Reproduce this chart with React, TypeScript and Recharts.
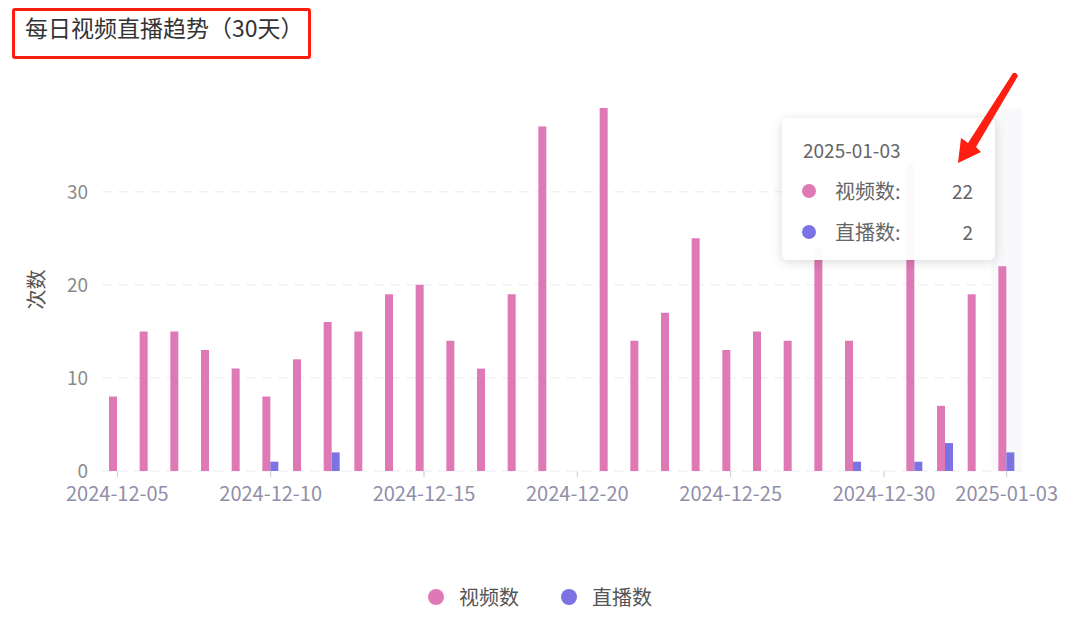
import React from "react";
import {
  BarChart, Bar, XAxis, YAxis, CartesianGrid, Tooltip, Legend,
} from "recharts";

const days = [
  "2024-12-05", "2024-12-06", "2024-12-07", "2024-12-08", "2024-12-09",
  "2024-12-10", "2024-12-11", "2024-12-12", "2024-12-13", "2024-12-14",
  "2024-12-15", "2024-12-16", "2024-12-17", "2024-12-18", "2024-12-19",
  "2024-12-20", "2024-12-21", "2024-12-22", "2024-12-23", "2024-12-24",
  "2024-12-25", "2024-12-26", "2024-12-27", "2024-12-28", "2024-12-29",
  "2024-12-30", "2024-12-31", "2025-01-01", "2025-01-02", "2025-01-03",
];
const videoCounts = [8, 15, 15, 13, 11, 8, 12, 16, 15, 19, 20, 14, 11, 19, 37, 0, 39, 14, 17, 25, 13, 15, 14, 24, 14, 0, 33, 7, 19, 22];
const liveCounts = [0, 0, 0, 0, 0, 1, 0, 2, 0, 0, 0, 0, 0, 0, 0, 0, 0, 0, 0, 0, 0, 0, 0, 0, 1, 0, 1, 3, 0, 2];
const seriesNames = ["视频数", "直播数"];
const xTicks = ["2024-12-05", "2024-12-10", "2024-12-15", "2024-12-20", "2024-12-25", "2024-12-30", "2025-01-03"];
const yTicks = [0, 10, 20, 30];

const FONT = "'Noto Sans CJK SC', 'Noto Sans', sans-serif";
const PINK = "#df79b6";
const PURPLE = "#7b72e4";

const chartData = days.map((d, i) => ({
  date: d,
  视频数: videoCounts[i],
  直播数: liveCounts[i],
}));

function AxisTitle({ viewBox }: any) {
  const cx = viewBox.x - 7;
  const cy = viewBox.y + viewBox.height / 2;
  return (
    <text
      x={cx} y={cy} transform={`rotate(-90, ${cx}, ${cy})`}
      textAnchor="middle" dominantBaseline="central"
      fill="#555" fontSize={20} fontFamily={FONT}
    >
      次数
    </text>
  );
}

function TipBox({ active, payload, label }: any) {
  if (!active || !payload?.length) return null;
  return (
    <div style={{
      position: "relative", width: 213, height: 142, boxSizing: "border-box",
      background: "rgba(255,255,255,0.96)", borderRadius: 6,
      boxShadow: "0 2px 12px rgba(0,0,0,0.15)", fontFamily: FONT, color: "#666",
    }}>
      <div style={{ position: "absolute", left: 21, top: 20, fontSize: 19, lineHeight: "24px" }}>{label}</div>
      {payload.map((p: any, i: number) => (
        <div key={p.name} style={{ position: "absolute", left: 0, top: 61 + i * 41, width: 213, height: 24 }}>
          <span style={{
            position: "absolute", left: 20, top: 5, width: 14, height: 14,
            borderRadius: 7, background: p.color,
          }} />
          <span style={{ position: "absolute", left: 53, fontSize: 20, lineHeight: "24px" }}>{p.name}:</span>
          <span style={{ position: "absolute", right: 22, fontSize: 19, lineHeight: "24px" }}>{p.value}</span>
        </div>
      ))}
    </div>
  );
}

function LegendRow({ payload }: any) {
  const items = [...(payload || [])].sort(
    (a: any, b: any) => seriesNames.indexOf(a.value) - seriesNames.indexOf(b.value),
  );
  return (
    <div style={{ width: 1080, height: 24, display: "flex", justifyContent: "center", gap: 42, fontFamily: FONT }}>
      {items.map((p: any) => (
        <div key={p.value} style={{ display: "flex", alignItems: "center", gap: 15 }}>
          <span style={{ width: 16, height: 16, borderRadius: 8, background: p.color }} />
          <span style={{ fontSize: 20, lineHeight: "24px", color: "#555" }}>{p.value}</span>
        </div>
      ))}
    </div>
  );
}

export default function App() {
  return (
    <div style={{ position: "absolute", left: 0, top: 0, width: 1080, height: 623, background: "#fff" }}>
      <BarChart
        width={1080} height={623} data={chartData}
        margin={{ top: 108, right: 58, left: 42, bottom: 14 }}
        barGap={0}
      >
        <CartesianGrid
          vertical={false} horizontalValues={yTicks}
          stroke="#ececf4" strokeDasharray="10 6"
        />
        <XAxis
          dataKey="date" ticks={xTicks} interval={0} height={114}
          axisLine={false} tickSize={6} tickMargin={10}
          tickLine={{ stroke: "#c8c8d0" }}
          tick={{ fill: "#8f8fa8", fontSize: 20, fontFamily: FONT }}
        />
        <YAxis
          domain={[0, 39]} ticks={yTicks} width={60}
          axisLine={false} tickLine={false} tickSize={6} tickMargin={8}
          tick={{ fill: "#8c8c8c", fontSize: 19, fontFamily: FONT }}
          label={<AxisTitle />}
        />
        <Tooltip
          defaultIndex={29} active
          position={{ x: 782, y: 118 }}
          content={<TipBox />}
          cursor={{ fill: "#f9f9fc" }}
          isAnimationActive={false}
        />
        <Legend verticalAlign="bottom" content={<LegendRow />} wrapperStyle={{ left: 0, width: 1080 }} />
        <Bar dataKey="视频数" fill={PINK} barSize={8} isAnimationActive={false} />
        <Bar dataKey="直播数" fill={PURPLE} barSize={8} isAnimationActive={false} />
      </BarChart>

      <div style={{
        position: "absolute", left: 12, top: 8, width: 299, height: 51,
        boxSizing: "border-box", border: "3px solid #ff1d10", borderRadius: 3,
      }} />
      <div style={{
        position: "absolute", left: 25, top: 13, fontSize: 23, lineHeight: "28px",
        color: "#333", fontFamily: FONT, whiteSpace: "nowrap",
      }}>
        每日视频直播趋势（30天）
      </div>

      <svg width={1080} height={623} style={{ position: "absolute", left: 0, top: 0, pointerEvents: "none" }}>
        <polygon
          fill="#ff1e12"
          points="1016,73 1018,76 976,147 981,152 958,163 961,138 968,143 1013,73"
        />
      </svg>
    </div>
  );
}
